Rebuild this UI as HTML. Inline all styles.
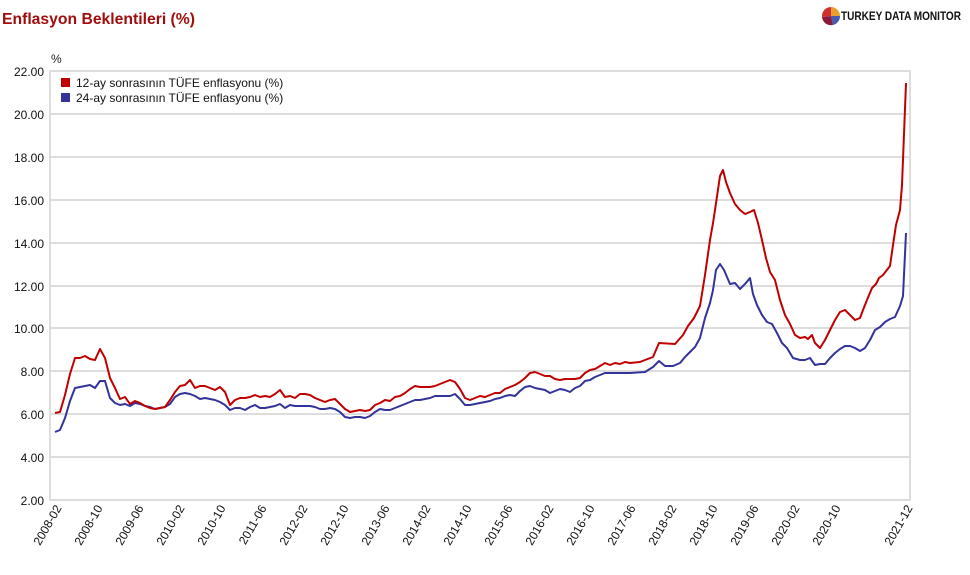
<!DOCTYPE html>
<html><head><meta charset="utf-8"><style>
body{margin:0;background:#fff;width:970px;height:570px;overflow:hidden;font-family:"Liberation Sans",Arial,sans-serif}
</style></head><body>
<svg width="970" height="570" xmlns="http://www.w3.org/2000/svg" font-family="Liberation Sans, Arial, sans-serif">
<text x="2" y="24" font-size="16" font-weight="bold" fill="#a00d0d" textLength="193" lengthAdjust="spacingAndGlyphs">Enflasyon Beklentileri (%)</text>
<g transform="translate(822,7)">
<path d="M9,9 L9,0 A9,9 0 0 1 18,9Z" fill="#e8a030"/>
<path d="M9,9 L18,9 A9,9 0 0 1 11,18Z" fill="#4a5ab0"/>
<path d="M9,9 L11,18 A9,9 0 0 1 0,10Z" fill="#8a1a3a"/>
<path d="M9,9 L0,10 A9,9 0 0 1 9,0Z" fill="#d03030"/>
</g>
<text x="841" y="20" font-size="12" font-weight="bold" fill="#111" textLength="120" lengthAdjust="spacingAndGlyphs">TURKEY DATA MONITOR</text>
<text x="51" y="63" font-size="12" fill="#222">%</text>
<g stroke="#ddd" stroke-width="2">
<line x1="50" y1="71" x2="910" y2="71"/><line x1="50" y1="114" x2="910" y2="114"/><line x1="50" y1="157" x2="910" y2="157"/><line x1="50" y1="200" x2="910" y2="200"/><line x1="50" y1="243" x2="910" y2="243"/><line x1="50" y1="286" x2="910" y2="286"/><line x1="50" y1="328" x2="910" y2="328"/><line x1="50" y1="371" x2="910" y2="371"/><line x1="50" y1="414" x2="910" y2="414"/><line x1="50" y1="457" x2="910" y2="457"/><line x1="50" y1="500" x2="910" y2="500"/>
<line x1="50" y1="70" x2="50" y2="501"/><line x1="910" y1="70" x2="910" y2="501"/>
</g>
<g font-size="12" fill="#111" text-anchor="end">
<text x="44" y="76">22.00</text><text x="44" y="119">20.00</text><text x="44" y="162">18.00</text><text x="44" y="205">16.00</text><text x="44" y="248">14.00</text><text x="44" y="291">12.00</text><text x="44" y="333">10.00</text><text x="44" y="376">8.00</text><text x="44" y="419">6.00</text><text x="44" y="462">4.00</text><text x="44" y="505">2.00</text>
</g>
<g font-size="12" fill="#111" text-anchor="end">
<text transform="translate(62,508) rotate(-60)">2008-02</text>
<text transform="translate(103,508) rotate(-60)">2008-10</text>
<text transform="translate(144,508) rotate(-60)">2009-06</text>
<text transform="translate(185,508) rotate(-60)">2010-02</text>
<text transform="translate(226,508) rotate(-60)">2010-10</text>
<text transform="translate(267,508) rotate(-60)">2011-06</text>
<text transform="translate(308,508) rotate(-60)">2012-02</text>
<text transform="translate(349,508) rotate(-60)">2012-10</text>
<text transform="translate(390,508) rotate(-60)">2013-06</text>
<text transform="translate(431,508) rotate(-60)">2014-02</text>
<text transform="translate(472,508) rotate(-60)">2014-10</text>
<text transform="translate(513,508) rotate(-60)">2015-06</text>
<text transform="translate(554,508) rotate(-60)">2016-02</text>
<text transform="translate(595,508) rotate(-60)">2016-10</text>
<text transform="translate(636,508) rotate(-60)">2017-06</text>
<text transform="translate(677,508) rotate(-60)">2018-02</text>
<text transform="translate(718,508) rotate(-60)">2018-10</text>
<text transform="translate(759,508) rotate(-60)">2019-06</text>
<text transform="translate(800,508) rotate(-60)">2020-02</text>
<text transform="translate(841,508) rotate(-60)">2020-10</text>
<text transform="translate(913,508) rotate(-60)">2021-12</text>
</g>
<rect x="61" y="78" width="9" height="9" fill="#c00000"/>
<rect x="61" y="93" width="9" height="9" fill="#33339a"/>
<text x="76" y="87" font-size="12" fill="#111">12-ay sonrasının TÜFE enflasyonu (%)</text>
<text x="76" y="102" font-size="12" fill="#111">24-ay sonrasının TÜFE enflasyonu (%)</text>
<polyline fill="none" stroke="#33339a" stroke-width="2" stroke-linejoin="round" points="55,432 60,430 65,418 70,401 75,388 80,387 85,386 90,385 95,388 100,381 105,381 110,398 115,403 120,405 125,404 130,406 135,403 140,404 145,406 150,407 155,409 160,408 165,407 170,404 175,397 180,394 185,393 190,394 195,396 200,399 205,398 210,399 215,400 220,402 225,405 230,410 235,408 240,408 245,410 250,407 255,405 260,408 265,408 270,407 275,406 280,404 285,408 290,405 295,406 300,406 305,406 310,406 315,407 320,409 325,409 330,408 335,409 340,412 345,417 350,418 355,417 360,417 365,418 370,416 375,412 380,409 385,410 390,410 395,408 400,406 405,404 410,402 415,400 420,400 425,399 430,398 435,396 440,396 445,396 450,396 455,394 460,399 465,405 470,405 475,404 480,403 485,402 490,401 495,399 500,398 505,396 510,395 515,396 520,391 525,387 530,386 535,388 540,389 545,390 550,393 555,391 560,389 565,390 570,392 575,388 580,386 585,381 590,380 595,377 600,375 605,373 610,373 615,373 630,373 645,372 653,367 659,361 665,366 673,366 680,363 685,357 690,352 695,347 700,338 705,318 710,303 713,290 716,270 720,264 724,270 727,277 730,284 735,283 740,289 745,284 750,278 753,294 757,305 762,315 767,322 772,324 777,333 782,343 787,348 793,358 800,360 805,360 810,358 815,365 820,364 825,364 830,358 835,353 840,349 845,346 850,346 855,348 860,351 865,348 870,340 875,330 880,327 885,322 890,319 895,317 900,306 903,296 906,233"/>
<polyline fill="none" stroke="#c00000" stroke-width="2" stroke-linejoin="round" points="55,413 60,412 65,395 70,374 75,358 80,358 85,356 90,359 95,360 100,349 105,358 110,378 115,388 120,399 125,397 130,404 135,401 140,403 145,406 150,408 155,409 160,408 165,407 170,400 175,392 180,386 185,385 190,380 195,388 200,386 205,386 210,388 215,390 220,387 225,392 230,405 235,400 240,398 245,398 250,397 255,395 260,397 265,396 270,397 275,394 280,390 285,397 290,396 295,398 300,394 305,394 310,395 315,398 320,400 325,402 330,400 335,399 340,404 345,409 350,412 355,411 360,410 365,411 370,410 375,405 380,403 385,400 390,401 395,397 400,396 405,393 410,389 415,386 420,387 425,387 430,387 435,386 440,384 445,382 450,380 455,382 460,389 465,398 470,400 475,398 480,396 485,397 490,395 495,393 500,393 505,389 510,387 515,385 520,382 525,378 530,373 535,372 540,374 545,376 550,376 555,379 560,380 565,379 570,379 575,379 580,378 585,373 590,370 595,369 600,366 605,363 610,365 615,363 620,364 625,362 630,363 640,362 645,360 653,357 659,343 675,344 683,335 688,326 694,318 700,306 705,275 710,240 713,223 715,210 720,176 723,170 726,182 730,193 735,204 740,210 745,214 750,212 754,210 758,223 762,240 766,258 770,272 775,280 780,300 785,315 790,324 795,335 800,338 805,337 808,339 812,335 815,343 820,348 825,340 830,330 835,320 840,312 845,310 850,315 855,320 860,318 863,310 867,300 872,288 876,284 879,278 883,275 890,266 893,245 896,225 900,210 902,185 906,83"/>
</svg>
</body></html>
